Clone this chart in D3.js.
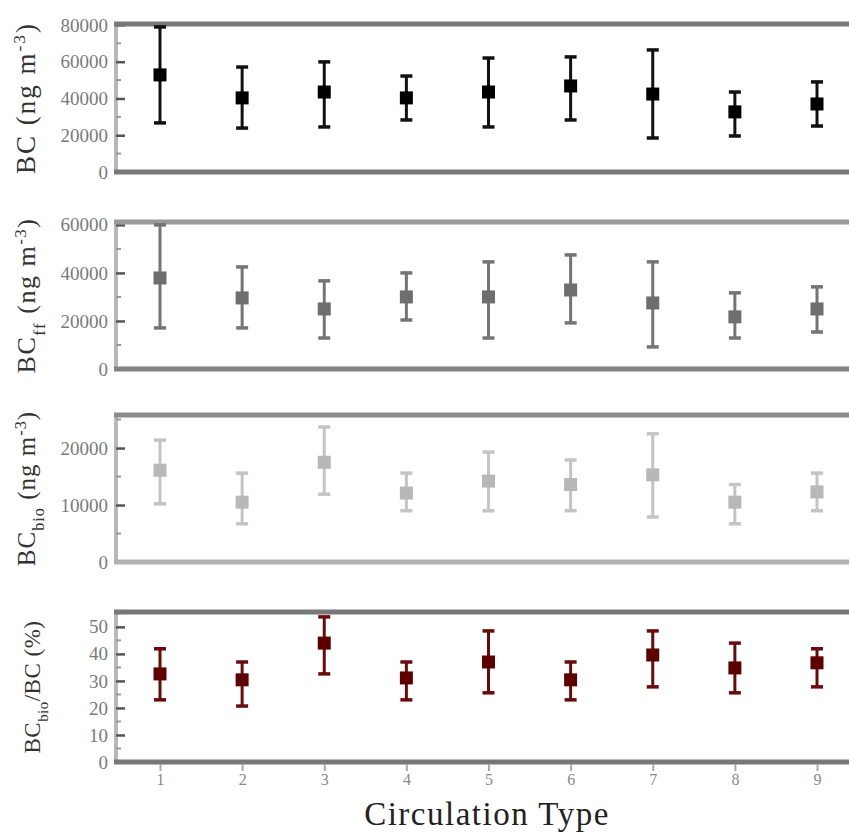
<!DOCTYPE html>
<html>
<head>
<meta charset="utf-8">
<script src="https://cdn.jsdelivr.net/npm/d3@7"></script>
<style>
  html, body { margin: 0; padding: 0; background: #ffffff; }
  svg { display: block; }
</style>
</head>
<body>
<script>
// ---- data ----
const circulationTypes = [1, 2, 3, 4, 5, 6, 7, 8, 9];

const bcMean = [52800, 40300, 43500, 40300, 43500, 46800, 42400, 32700, 37000];
const bcLow  = [26700, 23900, 24500, 28300, 24500, 28300, 18500, 19600, 25000];
const bcHigh = [78900, 57100, 59900, 52200, 62000, 62600, 66400, 43500, 49000];

const bcffMean = [37900, 29600, 25000, 30000, 30000, 32900, 27500, 21700, 25000];
const bcffLow  = [17100, 17100, 12900, 20400, 12900, 19200, 9200, 12900, 15400];
const bcffHigh = [60000, 42500, 36700, 40000, 44600, 47500, 44600, 31700, 34200];

const bcbioMean = [16100, 10500, 17500, 12100, 14200, 13600, 15300, 10500, 12300];
const bcbioLow  = [10200, 6700, 11900, 9000, 9000, 9000, 7900, 6700, 9000];
const bcbioHigh = [21400, 15600, 23700, 15600, 19300, 17900, 22500, 13600, 15600];

const fracMean = [32.6, 30.4, 44.0, 31.1, 37.0, 30.4, 39.6, 34.8, 36.7];
const fracLow  = [23.0, 20.7, 32.6, 23.0, 25.6, 23.0, 27.8, 25.6, 27.8];
const fracHigh = [41.9, 37.0, 53.7, 37.0, 48.5, 37.0, 48.5, 44.0, 41.9];

const ticksBC    = [0, 20000, 40000, 60000, 80000];
const ticksBCff  = [0, 20000, 40000, 60000];
const ticksBCbio = [0, 10000, 20000];
const ticksFrac  = [0, 10, 20, 30, 40, 50];

const xLabel = "Circulation Type";

// ---- layout ----
const W = 849, H = 834;
const axisX = 116, rightX = 849;

const svg = d3.select("body").append("svg")
  .attr("width", W).attr("height", H)
  .style("font-family", "'Liberation Serif', 'DejaVu Serif', serif");

const x = d3.scaleLinear().domain([1, 9]).range([160, 817]);

const panels = [
  { mean: bcMean, low: bcLow, high: bcHigh, ticks: ticksBC, minor: 10000,
    domain: [0, 80500], range: [172, 24], color: "#000000", line: "#111111",
    topColor: "#787878", botColor: "#787878",
    label: [["BC", ""], [" (ng m", ""], ["-3", "sup"], [")", ""]],
    labelX: 35, labelSize: 27, spacing: 2 },
  { mean: bcffMean, low: bcffLow, high: bcffHigh, ticks: ticksBCff, minor: 10000,
    domain: [0, 61200], range: [369, 222], color: "#6e6e6e", line: "#747474",
    topColor: "#9a9a9a", botColor: "#828282",
    label: [["BC", ""], ["ff", "sub"], [" (ng m", ""], ["-3", "sup"], [")", ""]],
    labelX: 35, labelSize: 26, spacing: 1.5 },
  { mean: bcbioMean, low: bcbioLow, high: bcbioHigh, ticks: ticksBCbio, minor: 5000,
    domain: [0, 25800], range: [562, 415], color: "#b8b8b8", line: "#c4c4c4",
    topColor: "#8c8c8c", botColor: "#b2b2b2",
    label: [["BC", ""], ["bio", "sub"], [" (ng m", ""], ["-3", "sup"], [")", ""]],
    labelX: 35, labelSize: 25, spacing: 1 },
  { mean: fracMean, low: fracLow, high: fracHigh, ticks: ticksFrac, minor: 5,
    domain: [0, 55.5], range: [762, 612], color: "#5e0000", line: "#6a0a0a",
    topColor: "#777777", botColor: "#777777",
    label: [["BC", ""], ["bio", "sub"], ["/BC (%)", ""]],
    labelX: 40, labelSize: 23, spacing: 0.5 }
];

panels.forEach((p, i) => {
  const y = d3.scaleLinear().domain(p.domain).range(p.range);
  const g = svg.append("g");
  const yTop = p.range[1], yBot = p.range[0];

  // left axis line
  g.append("line").attr("x1", axisX).attr("x2", axisX)
    .attr("y1", yTop).attr("y2", yBot)
    .attr("stroke", "#b8b8b8").attr("stroke-width", 4);

  // minor ticks
  const minors = d3.range(p.minor, p.domain[1], p.minor).filter(v => !p.ticks.includes(v));
  g.selectAll(".minor").data(minors).join("line")
    .attr("x1", axisX).attr("x2", axisX + 5)
    .attr("y1", d => y(d)).attr("y2", d => y(d))
    .attr("stroke", "#9a9a9a").attr("stroke-width", 2);

  // major ticks + labels
  const ax = g.append("g").attr("transform", `translate(${axisX},0)`)
    .call(d3.axisLeft(y).tickValues(p.ticks).tickFormat(d3.format("d"))
      .tickSizeInner(-9).tickSizeOuter(0).tickPadding(8));
  ax.select(".domain").remove();
  ax.selectAll(".tick line").attr("stroke", "#555").attr("stroke-width", 2.5);
  ax.selectAll(".tick text").attr("fill", "#7a7a7a").style("font-size", "19px")
    .style("font-family", "'Liberation Serif', serif");

  // top border and bottom axis
  g.append("line").attr("x1", axisX - 2).attr("x2", rightX)
    .attr("y1", yTop).attr("y2", yTop)
    .attr("stroke", p.topColor).attr("stroke-width", 5);
  g.append("line").attr("x1", axisX - 2).attr("x2", rightX)
    .attr("y1", yBot).attr("y2", yBot)
    .attr("stroke", p.botColor).attr("stroke-width", 5);

  // error bars
  const idx = d3.range(circulationTypes.length);
  const capW = 12;
  g.selectAll(".eb").data(idx).join("line")
    .attr("x1", d => x(circulationTypes[d])).attr("x2", d => x(circulationTypes[d]))
    .attr("y1", d => y(p.low[d])).attr("y2", d => y(p.high[d]))
    .attr("stroke", p.line).attr("stroke-width", 3);
  ["low", "high"].forEach(k => {
    g.selectAll(".cap" + k).data(idx).join("line")
      .attr("x1", d => x(circulationTypes[d]) - capW / 2)
      .attr("x2", d => x(circulationTypes[d]) + capW / 2)
      .attr("y1", d => y(p[k][d])).attr("y2", d => y(p[k][d]))
      .attr("stroke", p.line).attr("stroke-width", 3.5);
  });
  const ms = 13;
  g.selectAll(".mk").data(idx).join("rect")
    .attr("x", d => x(circulationTypes[d]) - ms / 2)
    .attr("y", d => y(p.mean[d]) - ms / 2)
    .attr("width", ms).attr("height", ms)
    .attr("fill", p.color);

  // y label
  const cy = (yTop + yBot) / 2;
  const t = svg.append("text")
    .attr("transform", `translate(${p.labelX},${cy}) rotate(-90)`)
    .attr("text-anchor", "middle")
    .attr("fill", "#333")
    .style("letter-spacing", p.spacing + "px")
    .style("font-size", p.labelSize + "px");
  p.label.forEach(([s, kind]) => {
    const ts = t.append("tspan").text(s);
    if (kind === "sup") ts.attr("baseline-shift", "super").style("font-size", (p.labelSize * 0.65) + "px");
    if (kind === "sub") ts.attr("baseline-shift", "sub").style("font-size", (p.labelSize * 0.65) + "px");
  });

  // x axis on the last panel
  if (i === panels.length - 1) {
    const xa = svg.append("g").attr("transform", `translate(0,${yBot + 2})`)
      .call(d3.axisBottom(x).tickValues(circulationTypes).tickFormat(d3.format("d"))
        .tickSizeInner(7).tickSizeOuter(0).tickPadding(3));
    xa.select(".domain").remove();
    xa.selectAll(".tick line").attr("stroke", "#aaa").attr("stroke-width", 2);
    xa.selectAll(".tick text").attr("fill", "#888").style("font-size", "16px")
      .style("font-family", "'Liberation Serif', serif");
  }
});

svg.append("text")
  .attr("x", 487).attr("y", 825)
  .attr("text-anchor", "middle")
  .attr("fill", "#222")
  .style("font-size", "33px")
  .style("letter-spacing", "1.5px")
  .text(xLabel);
</script>
</body>
</html>
